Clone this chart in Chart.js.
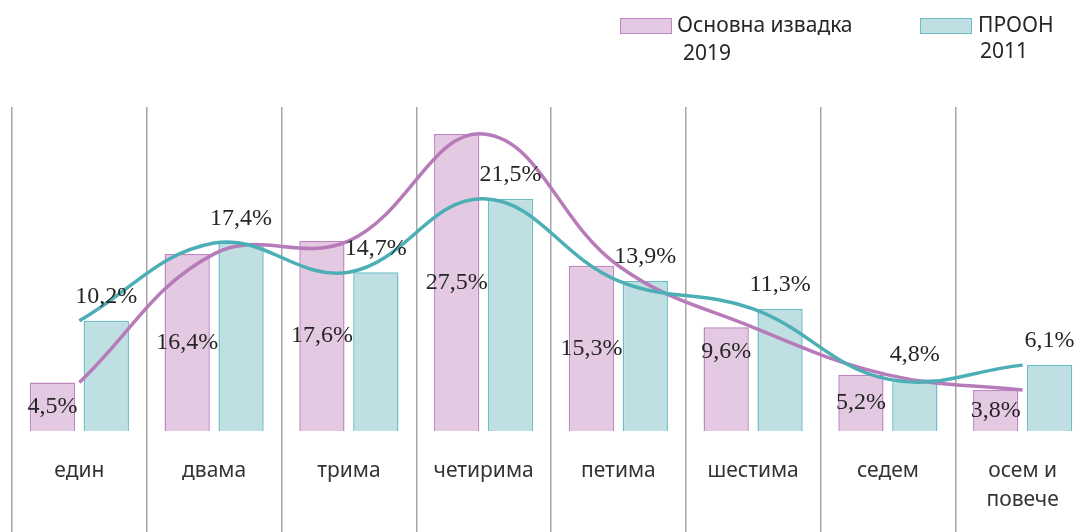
<!DOCTYPE html>
<html lang="bg">
<head>
<meta charset="utf-8">
<title>Домакинства по брой членове</title>
<script src="https://cdn.jsdelivr.net/npm/chart.js@4/dist/chart.umd.min.js"></script>
<style>
  html, body { margin: 0; padding: 0; background: #fff; overflow: hidden; }
  #wrap { position: relative; width: 1090px; height: 532px; }
  .legend { position: absolute; font-family: "Noto Sans", sans-serif; font-size: 21px; color: #262626; line-height: 28px; }
  .swatch { position: absolute; width: 50px; height: 14px; }
</style>
</head>
<body>
<div id="wrap">
  <canvas id="chart" width="1090" height="532"></canvas>
  <div class="swatch" style="left:620px; top:18px; background:#e3c9e1; border:1px solid #c086c2;"></div>
  <div class="legend" style="left:677px; top:10px;">Основна извадка</div>
  <div class="legend" style="left:683px; top:38px;">2019</div>
  <div class="swatch" style="left:920px; top:18px; background:#bfdfe3; border:1px solid #6cbfc6;"></div>
  <div class="legend" style="left:978px; top:10px;">ПРООН</div>
  <div class="legend" style="left:980px; top:36px;">2011</div>
</div>
<script>
const categories = ['един', 'двама', 'трима', 'четирима', 'петима', 'шестима', 'седем', ['осем и', 'повече']];
const sample2019 = [4.5, 16.4, 17.6, 27.5, 15.3, 9.6, 5.2, 3.8];
const undp2011 = [10.2, 17.4, 14.7, 21.5, 13.9, 11.3, 4.8, 6.1];

// the 9,6% label sits higher in its bar than the others
const pinkLabelShift = [0, 0, 0, 0, 0, -27, 0, 0];

function fmt(v) {
  return v.toFixed(1).replace('.', ',') + '%';
}

const valueLabels = {
  id: 'valueLabels',
  afterDatasetsDraw(chart) {
    const ctx = chart.ctx;
    ctx.save();
    ctx.font = '24px "Liberation Serif"';
    ctx.fillStyle = '#262626';
    ctx.textAlign = 'center';
    ctx.textBaseline = 'middle';
    chart.getDatasetMeta(0).data.forEach((bar, i) => {
      const y = (bar.y + bar.base) / 2 + pinkLabelShift[i];
      ctx.fillText(fmt(sample2019[i]), bar.x, y);
    });
    chart.getDatasetMeta(1).data.forEach((bar, i) => {
      ctx.fillText(fmt(undp2011[i]), bar.x, bar.y - 24);
    });
    ctx.restore();
  }
};

const ctx = document.getElementById('chart').getContext('2d');
new Chart(ctx, {
  type: 'bar',
  data: {
    labels: categories,
    datasets: [
      {
        label: 'Основна извадка 2019',
        data: sample2019,
        backgroundColor: '#e3c9e1',
        borderColor: '#c086c2',
        borderWidth: 1.5,
        categoryPercentage: 0.8,
        barPercentage: 0.84,
        order: 2
      },
      {
        label: 'ПРООН 2011',
        data: undp2011,
        backgroundColor: '#bfdfe3',
        borderColor: '#6cbfc6',
        borderWidth: 1.5,
        categoryPercentage: 0.8,
        barPercentage: 0.84,
        order: 3
      },
      {
        type: 'line',
        data: sample2019,
        borderColor: '#b87bb9',
        borderWidth: 3.5,
        pointRadius: 0,
        tension: 0.4,
        fill: false,
        order: 1
      },
      {
        type: 'line',
        data: undp2011,
        borderColor: '#4cafb6',
        borderWidth: 3.5,
        pointRadius: 0,
        tension: 0.4,
        fill: false,
        order: 0
      }
    ]
  },
  options: {
    responsive: false,
    animation: false,
    layout: { padding: { left: 12, top: 107, right: 0, bottom: 0 } },
    plugins: {
      legend: { display: false },
      tooltip: { enabled: false }
    },
    scales: {
      x: {
        grid: {
          offset: true,
          color: '#a6a6a6',
          lineWidth: 1.5,
          drawTicks: true,
          tickLength: 101
        },
        border: { display: false },
        ticks: {
          padding: -75,
          color: '#333333',
          font: { family: 'Noto Sans', size: 21, lineHeight: 1.38 },
          maxRotation: 0,
          autoSkip: false
        },
        afterFit(scale) {
          scale.height = 101;
        }
      },
      y: {
        display: false,
        min: 0,
        max: 30
      }
    }
  },
  plugins: [valueLabels]
});
</script>
</body>
</html>
